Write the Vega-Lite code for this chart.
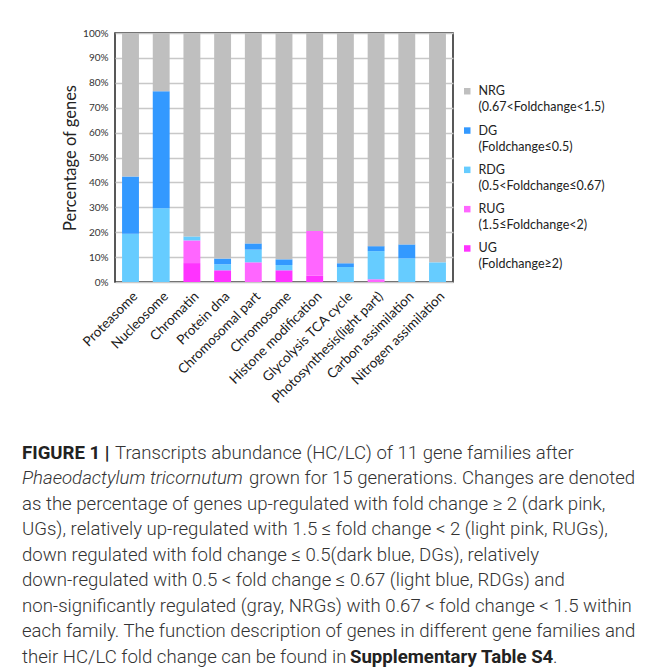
{
  "$schema": "https://vega.github.io/schema/vega-lite/v6.json",
  "padding": {"left": 22, "top": 27, "right": 0, "bottom": 0},
  "background": "white",
  "config": {"view": {"stroke": null}, "style": {"guide-label": {"lineHeight": 16}}},
  "spacing": 34,
  "vconcat": [
    {
      "width": 338,
      "height": 249,
      "view": {"stroke": "#222222", "strokeWidth": 1.5},
      "data": {"values": [
        {"family": "Proteasome", "category": "RDG", "pct": 19.4},
        {"family": "Proteasome", "category": "DG", "pct": 23.0},
        {"family": "Proteasome", "category": "NRG", "pct": 57.6},
        {"family": "Nucleosome", "category": "RDG", "pct": 29.6},
        {"family": "Nucleosome", "category": "DG", "pct": 47.0},
        {"family": "Nucleosome", "category": "NRG", "pct": 23.4},
        {"family": "Chromatin", "category": "UG", "pct": 7.6},
        {"family": "Chromatin", "category": "RUG", "pct": 9.1},
        {"family": "Chromatin", "category": "RDG", "pct": 1.6},
        {"family": "Chromatin", "category": "NRG", "pct": 81.7},
        {"family": "Protein dna", "category": "UG", "pct": 4.7},
        {"family": "Protein dna", "category": "RDG", "pct": 2.4},
        {"family": "Protein dna", "category": "DG", "pct": 2.3},
        {"family": "Protein dna", "category": "NRG", "pct": 90.6},
        {"family": "Chromosomal part", "category": "RUG", "pct": 7.9},
        {"family": "Chromosomal part", "category": "RDG", "pct": 5.1},
        {"family": "Chromosomal part", "category": "DG", "pct": 2.5},
        {"family": "Chromosomal part", "category": "NRG", "pct": 84.5},
        {"family": "Chromosome", "category": "UG", "pct": 4.7},
        {"family": "Chromosome", "category": "RDG", "pct": 2.1},
        {"family": "Chromosome", "category": "DG", "pct": 2.3},
        {"family": "Chromosome", "category": "NRG", "pct": 90.9},
        {"family": "Histone modification", "category": "UG", "pct": 2.5},
        {"family": "Histone modification", "category": "RUG", "pct": 18.0},
        {"family": "Histone modification", "category": "NRG", "pct": 79.5},
        {"family": "Glycolysis TCA cycle", "category": "RDG", "pct": 6.0},
        {"family": "Glycolysis TCA cycle", "category": "DG", "pct": 1.5},
        {"family": "Glycolysis TCA cycle", "category": "NRG", "pct": 92.5},
        {"family": "Photosynthesis(light part)", "category": "RUG", "pct": 1.1},
        {"family": "Photosynthesis(light part)", "category": "RDG", "pct": 11.3},
        {"family": "Photosynthesis(light part)", "category": "DG", "pct": 2.0},
        {"family": "Photosynthesis(light part)", "category": "NRG", "pct": 85.6},
        {"family": "Carbon assimilation", "category": "RDG", "pct": 9.5},
        {"family": "Carbon assimilation", "category": "DG", "pct": 5.6},
        {"family": "Carbon assimilation", "category": "NRG", "pct": 84.9},
        {"family": "Nitrogen assimilation", "category": "RDG", "pct": 7.9},
        {"family": "Nitrogen assimilation", "category": "NRG", "pct": 92.1}
      ]},
      "transform": [{"calculate": "indexof(['UG','RUG','RDG','DG','NRG'], datum.category)", "as": "rank"}],
      "mark": {"type": "bar"},
      "encoding": {
        "x": {
          "field": "family", "type": "nominal", "sort": null,
          "scale": {"paddingInner": 0.45, "paddingOuter": 0.23},
          "axis": {"title": null, "labelAngle": -45, "labelFont": "Lato", "labelFontSize": 13.5, "labelColor": "#1a1a1a", "ticks": false, "domain": false, "labelPadding": 7, "labelLimit": 300}
        },
        "y": {
          "field": "pct", "type": "quantitative", "stack": "zero",
          "scale": {"domain": [0, 100], "nice": false},
          "axis": {"title": "Percentage of genes", "titleFont": "Lato", "titleFontSize": 16.5, "titleFontWeight": "normal", "titleColor": "#222222", "titlePadding": 4,
                   "values": [0, 10, 20, 30, 40, 50, 60, 70, 80, 90, 100], "labelExpr": "datum.value + '%'",
                   "labelFont": "Lato", "labelFontSize": 10, "labelColor": "#333333", "ticks": false, "domain": false, "labelPadding": 7,
                   "gridColor": "#c8c8c8", "gridWidth": 1.3}
        },
        "color": {
          "field": "category", "type": "nominal",
          "scale": {"domain": ["NRG", "DG", "RDG", "RUG", "UG"], "range": ["#bfbfbf", "#3399ff", "#66ccff", "#ff66ff", "#ff33ff"]},
          "legend": {
            "title": null, "orient": "none", "legendX": 346, "legendY": 52,
            "symbolType": "square", "symbolSize": 42, "symbolStrokeWidth": 0,
            "labelFont": "Lato", "labelFontSize": 12.5, "labelColor": "#222222", "labelOffset": 5, "rowPadding": 10.3, "labelLimit": 200,
            "labelExpr": "datum.label == 'NRG' ? ['NRG','(0.67<Foldchange<1.5)'] : datum.label == 'DG' ? ['DG','(Foldchange≤0.5)'] : datum.label == 'RDG' ? ['RDG','(0.5<Foldchange≤0.67)'] : datum.label == 'RUG' ? ['RUG','(1.5≤Foldchange<2)'] : ['UG','(Foldchange≥2)']"
          }
        },
        "order": {"field": "rank", "type": "quantitative"}
      }
    },
    {
      "width": 600,
      "height": 229.5,
      "data": {"values": [
        {"line": 1, "part": "bold1", "text": "FIGURE 1 |"},
        {"line": 1, "part": "rest1", "text": "Transcripts abundance (HC/LC) of 11 gene families after"},
        {"line": 2, "part": "ital2", "text": "Phaeodactylum tricornutum"},
        {"line": 2, "part": "rest2", "text": "grown for 15 generations. Changes are denoted"},
        {"line": 3, "part": "plain", "text": "as the percentage of genes up-regulated with fold change ≥ 2 (dark pink,"},
        {"line": 4, "part": "plain", "text": "UGs), relatively up-regulated with 1.5 ≤ fold change < 2 (light pink, RUGs),"},
        {"line": 5, "part": "plain", "text": "down regulated with fold change ≤ 0.5(dark blue, DGs), relatively"},
        {"line": 6, "part": "plain", "text": "down-regulated with 0.5 < fold change ≤ 0.67 (light blue, RDGs) and"},
        {"line": 7, "part": "plain", "text": "non-significantly regulated (gray, NRGs) with 0.67 < fold change < 1.5 within"},
        {"line": 8, "part": "plain", "text": "each family. The function description of genes in different gene families and"},
        {"line": 9, "part": "plain", "text": "their HC/LC fold change can be found in"},
        {"line": 9, "part": "bold9", "text": "Supplementary Table S4"},
        {"line": 9, "part": "dot9", "text": "."}
      ]},
      "encoding": {
        "y": {"field": "line", "type": "ordinal", "axis": null, "scale": {"paddingOuter": 0.5}},
        "x": {"value": 0},
        "text": {"field": "text"}
      },
      "layer": [
        {"transform": [{"filter": "datum.part == 'plain'"}], "mark": {"type": "text", "align": "left", "baseline": "middle", "dx": -93, "font": "Roboto", "fontSize": 18.6, "fontWeight": 300, "color": "#333333"}},
        {"transform": [{"filter": "datum.part == 'bold1'"}], "mark": {"type": "text", "align": "left", "baseline": "middle", "dx": -93, "font": "Roboto", "fontSize": 18.6, "fontWeight": "bold", "color": "#222222"}},
        {"transform": [{"filter": "datum.part == 'rest1'"}], "mark": {"type": "text", "align": "left", "baseline": "middle", "dx": 0, "font": "Roboto", "fontSize": 18.6, "fontWeight": 300, "color": "#333333"}},
        {"transform": [{"filter": "datum.part == 'ital2'"}], "mark": {"type": "text", "align": "left", "baseline": "middle", "dx": -93, "font": "Roboto", "fontSize": 18.6, "fontWeight": 300, "fontStyle": "italic", "color": "#333333"}},
        {"transform": [{"filter": "datum.part == 'rest2'"}], "mark": {"type": "text", "align": "left", "baseline": "middle", "dx": 134, "font": "Roboto", "fontSize": 18.6, "fontWeight": 300, "color": "#333333"}},
        {"transform": [{"filter": "datum.part == 'bold9'"}], "mark": {"type": "text", "align": "left", "baseline": "middle", "dx": 235, "font": "Roboto", "fontSize": 18.6, "fontWeight": "bold", "color": "#222222"}},
        {"transform": [{"filter": "datum.part == 'dot9'"}], "mark": {"type": "text", "align": "left", "baseline": "middle", "dx": 438, "font": "Roboto", "fontSize": 18.6, "fontWeight": 300, "color": "#333333"}}
      ]
    }
  ]
}
